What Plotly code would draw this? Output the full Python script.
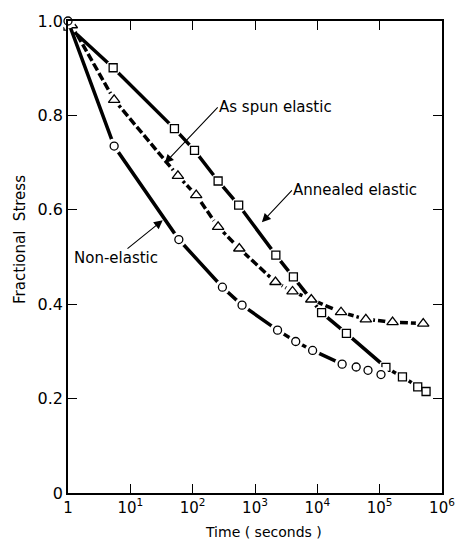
import math
import plotly.graph_objects as go

# Stress relaxation: fractional stress vs. time (s)
t_non = [1, 5.5, 60, 300, 620, 2300, 4500, 8400, 25000, 42000, 65000, 105000]
s_non = [1.0, 0.735, 0.537, 0.436, 0.398, 0.345, 0.321, 0.302, 0.273, 0.267, 0.260, 0.251]

t_spun = [1.15, 5.5, 58, 114, 256, 560, 2130, 4000, 8000, 24000, 60000, 161000, 500000]
s_spun = [0.991, 0.833, 0.672, 0.631, 0.564, 0.518, 0.447, 0.427, 0.410, 0.383, 0.368, 0.362, 0.359]

t_ann = [1, 5.3, 51, 107, 256, 547, 2160, 4130, 11700, 29300, 126000, 232000, 408000, 555000]
s_ann = [0.989, 0.901, 0.772, 0.726, 0.661, 0.610, 0.504, 0.458, 0.382, 0.338, 0.266, 0.246, 0.225, 0.215]

x_tickvals = [1, 10, 100, 1e3, 1e4, 1e5, 1e6]
x_ticktext = ["1", "10<sup>1</sup>", "10<sup>2</sup>", "10<sup>3</sup>",
              "10<sup>4</sup>", "10<sup>5</sup>", "10<sup>6</sup>"]
y_tickvals = [0, 0.2, 0.4, 0.6, 0.8, 1.0]
y_ticktext = ["0", "0.2", "0.4", "0.6", "0.8", "1.0"]

FONT = "DejaVu Sans"

fig = go.Figure()

series = [
    (t_ann, s_ann, "square", 8, "solid"),
    (t_spun, s_spun, "triangle-up", 10, "8px,3px"),
    (t_non, s_non, "circle", 8, "solid"),
]

for t, s, sym, size, dash in series:
    # connecting line
    fig.add_trace(go.Scatter(
        x=t, y=s, mode="lines",
        line=dict(color="black", width=3.5, dash=dash),
        hoverinfo="skip", showlegend=False, cliponaxis=False))
    # white gap around each data point
    fig.add_trace(go.Scatter(
        x=t, y=s, mode="markers",
        marker=dict(symbol="circle", size=15, color="white", line=dict(width=0)),
        hoverinfo="skip", showlegend=False, cliponaxis=False))
    # open symbols
    fig.add_trace(go.Scatter(
        x=t, y=s, mode="markers",
        marker=dict(symbol=sym, size=size, color="white",
                    line=dict(color="black", width=1.3)),
        showlegend=False, cliponaxis=False))

axis_common = dict(
    showline=True, linecolor="black", linewidth=1.5, mirror="ticks",
    ticks="inside", ticklen=9, tickwidth=1.3, tickcolor="black",
    showgrid=False, zeroline=False,
)

fig.update_xaxes(type="log", range=[0, 6], tickvals=x_tickvals,
                 ticktext=x_ticktext,
                 tickfont=dict(family=FONT, size=15, color="black"),
                 **axis_common)
fig.update_yaxes(range=[0, 1.0], tickvals=y_tickvals, ticktext=y_ticktext,
                 tickfont=dict(family=FONT, size=16, color="black"),
                 **axis_common)

labels = [
    # text, arrow tip time (s), tip stress, ax, ay, xanchor
    ("As spun elastic", 35.6, 0.6985, 53, -56, "left"),
    ("Annealed elastic", 1290, 0.5735, 30, -32, "left"),
    ("Non-elastic", 33.1, 0.578, -47, 38, "center"),
]

annotations = []
for text, px, py, ax, ay, xa in labels:
    annotations.append(dict(
        x=math.log10(px), y=py, xref="x", yref="y", text=text,
        showarrow=True, ax=ax, ay=ay, xanchor=xa, yanchor="middle",
        arrowhead=2, arrowsize=1.6, arrowwidth=1.1, arrowcolor="black",
        borderpad=0,
        font=dict(family=FONT, size=15, color="black")))

annotations.append(dict(
    x=-0.13, y=0.537, xref="paper", yref="paper",
    text="Fractional\u00a0 Stress", textangle=-90, showarrow=False,
    xanchor="center", yanchor="middle",
    font=dict(family=FONT, size=15, color="black")))
annotations.append(dict(
    x=0.522, y=-0.083, xref="paper", yref="paper",
    text="Time ( seconds )", showarrow=False,
    xanchor="center", yanchor="middle",
    font=dict(family=FONT, size=14, color="black")))

fig.update_layout(
    width=467, height=542,
    margin=dict(l=68, r=16, t=20, b=49),
    paper_bgcolor="white", plot_bgcolor="white",
    annotations=annotations,
    showlegend=False,
)

fig.write_html("out.html")
